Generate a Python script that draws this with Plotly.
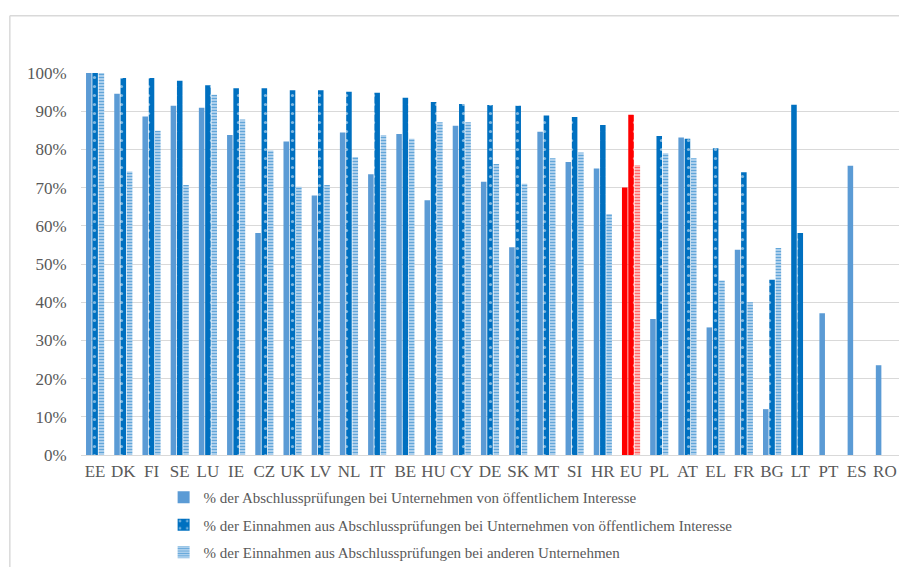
import plotly.graph_objects as go

categories = ["EE", "DK", "FI", "SE", "LU", "IE", "CZ", "UK", "LV", "NL", "IT", "BE", "HU", "CY",
              "DE", "SK", "MT", "SI", "HR", "EU", "PL", "AT", "EL", "FR", "BG", "LT", "PT", "ES", "RO"]

audits_pie = [100, 94.6, 88.6, 91.4, 90.9, 83.8, 58.1, 82.1, 67.9, 84.4, 73.5, 84.0, 66.7, 86.2,
              71.5, 54.4, 84.6, 76.7, 75.0, 70.0, 35.6, 83.1, 33.4, 53.7, 12.0, 91.7, 37.1, 75.7, 23.5]
revenue_pie = [100, 98.7, 98.7, 98.0, 96.8, 96.0, 96.0, 95.5, 95.5, 95.1, 94.8, 93.5, 92.4, 91.9,
               91.6, 91.4, 88.9, 88.5, 86.4, 89.1, 83.5, 82.8, 80.3, 74.0, 45.9, 58.1, None, None, None]
revenue_other = [100, 74.2, 84.9, 70.7, 94.3, 87.8, 79.7, 70.2, 70.7, 78.0, 83.8, 82.8, 87.1, 87.1,
                 76.2, 71.0, 77.7, 79.2, 63.1, 75.9, 79.0, 77.7, 45.7, 40.0, 54.2, None, None, None, None]

names = ["% der Abschlussprüfungen bei Unternehmen von öffentlichem Interesse",
         "% der Einnahmen aus Abschlussprüfungen bei Unternehmen von öffentlichem Interesse",
         "% der Einnahmen aus Abschlussprüfungen bei anderen Unternehmen"]

LIGHT = "#5B9BD5"
DARK = "#0070C0"
RED = "#FF0000"
HIGHLIGHT = "EU"

def frac(vals):
    return [None if v is None else v / 100 for v in vals]

c1 = [RED if c == HIGHLIGHT else (DARK if c == "LT" else LIGHT) for c in categories]
c2 = [RED if c == HIGHLIGHT else DARK for c in categories]

other_main = [None if c == HIGHLIGHT else v for c, v in zip(categories, revenue_other)]
other_eu = [v if c == HIGHLIGHT else None for c, v in zip(categories, revenue_other)]

fig = go.Figure()
fig.add_trace(go.Bar(x=categories, y=frac(audits_pie), name=names[0], legendgroup="a",
                     offsetgroup="a", marker=dict(color=c1, line=dict(width=0))))
fig.add_trace(go.Bar(x=categories, y=frac(revenue_pie), name=names[1], legendgroup="b",
                     offsetgroup="b",
                     marker=dict(color=c2, line=dict(width=0),
                                 pattern=dict(shape=".", fgcolor="#DDEBF7", size=9, solidity=0.1))))
fig.add_trace(go.Bar(x=categories, y=frac(other_main), name=names[2], legendgroup="c",
                     offsetgroup="c",
                     marker=dict(color="#C5DDF2", line=dict(width=0),
                                 pattern=dict(shape="-", fgcolor=DARK, bgcolor="#C5DDF2",
                                              size=3, solidity=0.5))))
fig.add_trace(go.Bar(x=categories, y=frac(other_eu), name=names[2], legendgroup="c",
                     offsetgroup="c", showlegend=False,
                     marker=dict(color="#FFD0D0", line=dict(width=0),
                                 pattern=dict(shape="-", fgcolor=RED, bgcolor="#FFD0D0",
                                              size=3, solidity=0.5))))

# outer frame (top and left edges visible in the reference)
frame = dict(xref="paper", yref="paper", line=dict(color="#D9D9D9", width=1.5), layer="above")
fig.add_shape(type="line", x0=-0.087, x1=1.05, y0=1.15, y1=1.15, **frame)
fig.add_shape(type="line", x0=-0.087, x1=-0.087, y0=-0.4, y1=1.15, **frame)

fig.update_layout(
    width=899, height=567,
    margin=dict(l=81, r=0, t=73, b=112, autoexpand=False),
    paper_bgcolor="white", plot_bgcolor="white",
    barmode="group", bargap=0.33, bargroupgap=0.12,
    font=dict(family="Liberation Serif", color="#595959", size=17),
    showlegend=True,
    legend=dict(orientation="v", x=0.101, xanchor="left", y=-0.068, yanchor="top",
                font=dict(size=15, color="#595959"), tracegroupgap=5,
                itemwidth=30, bgcolor="rgba(0,0,0,0)"),
    xaxis=dict(showgrid=False, showline=True, linecolor="#D9D9D9", linewidth=1.2,
               tickfont=dict(size=17, color="#595959"), ticks=""),
    yaxis=dict(range=[0, 1.0], dtick=0.1, tickformat=".0%", showgrid=True,
               gridcolor="#D9D9D9", gridwidth=1.2, zeroline=False,
               ticks="outside", ticklen=10, tickcolor="rgba(0,0,0,0)",
               tickfont=dict(size=17, color="#595959")),
)

fig.write_html("out.html", config={"displayModeBar": False},
               post_script="document.body.style.margin='0';")
